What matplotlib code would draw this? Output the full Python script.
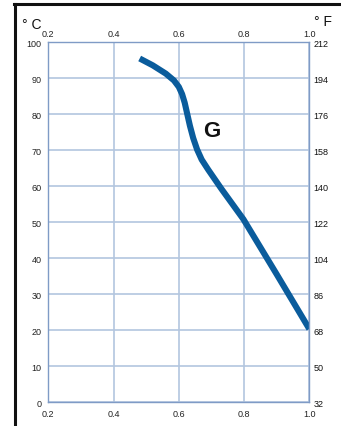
import matplotlib
matplotlib.use('Agg')
import matplotlib.pyplot as plt
from matplotlib.lines import Line2D

plt.rcParams['font.family'] = ['Liberation Sans', 'DejaVu Sans']

# ---- data ----
x_ticks = [0.2, 0.4, 0.6, 0.8, 1.0]
x_labels = ['0.2', '0.4', '0.6', '0.8', '1.0']
c_ticks = [0, 10, 20, 30, 40, 50, 60, 70, 80, 90, 100]
f_labels = ['32', '50', '68', '86', '104', '122', '140', '158', '176', '194', '212']

curve_x = [0.48, 0.52, 0.56, 0.585, 0.600, 0.610, 0.618, 0.626, 0.634, 0.644,
           0.656, 0.670, 0.690, 0.731, 0.798, 0.9, 1.0]
curve_y = [95.5, 93.6, 91.3, 89.4, 87.6, 85.6, 83.2, 80.0, 76.8, 73.4,
           70.2, 67.4, 64.6, 59.2, 50.8, 35.5, 20.3]
curve_label = 'G'
curve_label_pos = (0.70, 75.5)

# ---- figure ----
fig = plt.figure(figsize=(3.41, 4.27), dpi=100)
ax = fig.add_axes([0.1417, 0.0562, 0.7654, 0.8424])

grid_col = '#b3c6df'
spine_col = '#7f9bc6'

ax.set_xlim(0.2, 1.0)
ax.set_ylim(0, 100)
ax.set_xticks(x_ticks)
ax.set_xticklabels(x_labels)
ax.set_yticks(c_ticks)
ax.set_yticklabels([str(c) for c in c_ticks])
ax.grid(True, color=grid_col, linewidth=1.2)
ax.set_axisbelow(True)
for s in ax.spines.values():
    s.set_color(spine_col)
    s.set_linewidth(1.0)
ax.tick_params(length=0, labelsize=6.5, colors='#222222')
ax.tick_params(axis='x', pad=5, top=False, labeltop=False)
ax.tick_params(axis='y', pad=5)

# top scale
axt = ax.twiny()
axt.set_xlim(ax.get_xlim())
axt.set_xticks(x_ticks)
axt.set_xticklabels(x_labels)
axt.tick_params(length=0, labelsize=6.5, colors='#222222', pad=3)

# Fahrenheit scale on the right
axr = ax.twinx()
axr.set_ylim(ax.get_ylim())
axr.set_yticks(c_ticks)
axr.set_yticklabels(f_labels)
axr.tick_params(length=0, labelsize=6.5, colors='#111111', pad=3)
for a in (axt, axr):
    for s in a.spines.values():
        s.set_visible(False)

ax.plot(curve_x, curve_y, color='#0a5c9c', linewidth=4.4,
        solid_capstyle='butt', solid_joinstyle='round')
ax.text(curve_label_pos[0], curve_label_pos[1], curve_label, fontsize=16,
        fontweight='bold', color='#111111', ha='center', va='center')

# units
fig.text(22 / 341, 1 - 25 / 427, '° C', fontsize=10, color='#111111',
         ha='left', va='center')
fig.text(314 / 341, 1 - 22 / 427, '° F', fontsize=10, color='#111111',
         ha='left', va='center')

# black frame (top and left)
fig.add_artist(Line2D([14 / 341, 1.0], [1 - 5 / 427, 1 - 5 / 427],
                      transform=fig.transFigure, color='#111111', linewidth=2.2))
fig.add_artist(Line2D([15 / 341, 15 / 341], [1 - 5 / 427, 0.0],
                      transform=fig.transFigure, color='#111111', linewidth=2.2))

fig.savefig('out.png', dpi=100)
